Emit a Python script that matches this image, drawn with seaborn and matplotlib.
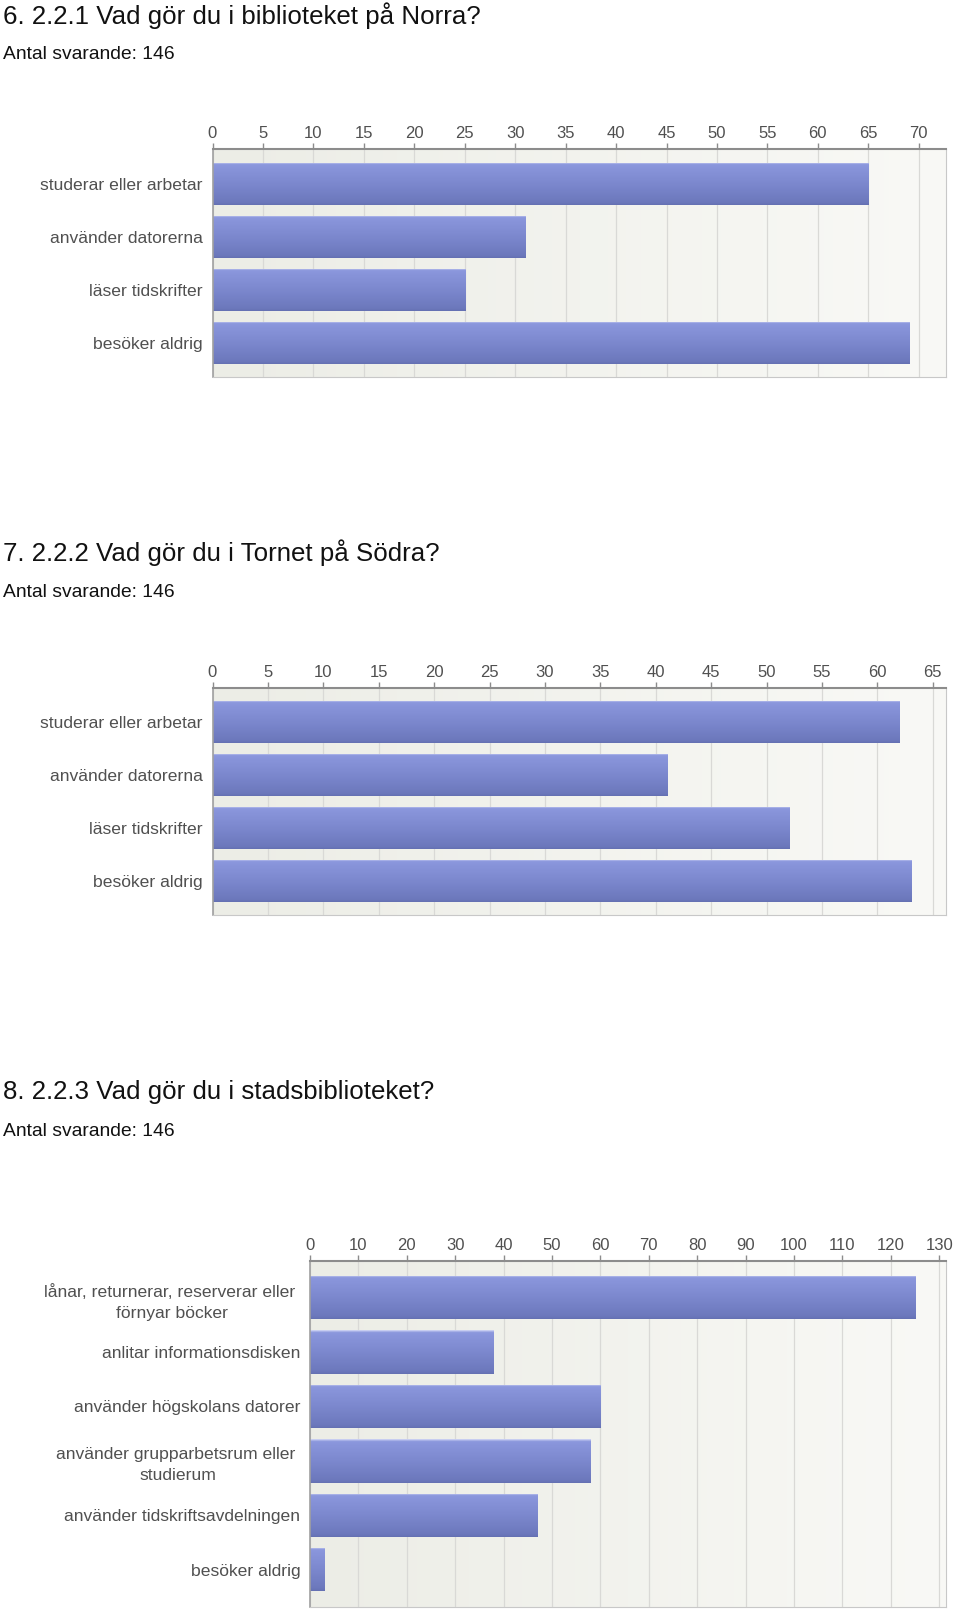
import numpy as np
import pandas as pd
import matplotlib
matplotlib.use("Agg")
import matplotlib.pyplot as plt
from matplotlib.colors import LinearSegmentedColormap
import seaborn as sns

# ---- data ----
titles = ["6. 2.2.1 Vad gör du i biblioteket på Norra?",
          "7. 2.2.2 Vad gör du i Tornet på Södra?",
          "8. 2.2.3 Vad gör du i stadsbiblioteket?"]
subtitles = ["Antal svarande: 146", "Antal svarande: 146", "Antal svarande: 146"]

cats1 = ["studerar eller arbetar", "använder datorerna", "läser tidskrifter", "besöker aldrig"]
vals1 = [65, 31, 25, 69]
ticks1 = list(range(0, 71, 5))

cats2 = ["studerar eller arbetar", "använder datorerna", "läser tidskrifter", "besöker aldrig"]
vals2 = [62, 41, 52, 63]
ticks2 = list(range(0, 66, 5))

cats3 = ["lånar, returnerar, reserverar eller \nförnyar böcker",
         "anlitar informationsdisken",
         "använder högskolans datorer",
         "använder grupparbetsrum eller \nstudierum",
         "använder tidskriftsavdelningen",
         "besöker aldrig"]
vals3 = [125, 38, 60, 58, 47, 3]
ticks3 = list(range(0, 131, 10))

sns.set_style("white")
plt.rcParams['font.family'] = ['Liberation Sans', 'DejaVu Sans']

W, H = 960, 1611
fig = plt.figure(figsize=(W / 100, H / 100), dpi=100)

bar_cmap = LinearSegmentedColormap.from_list(
    "bar", [(0.0, '#d4d9f5'), (0.05, '#8b97dd'), (0.5, '#7c88ce'),
            (0.94, '#6c78bc'), (1.0, '#6470b2')])
bg_cmap = LinearSegmentedColormap.from_list("bg", ['#ecede6', '#f9f9f6'])


def px_axes(left, right, top, bottom):
    return fig.add_axes([left / W, 1 - bottom / H, (right - left) / W, (bottom - top) / H])


def draw(ax, cats, vals, ticks, xmax, ylim):
    df = pd.DataFrame({"cat": cats, "val": vals})
    sns.barplot(data=df, x="val", y="cat", orient="h", ax=ax, color='#7c88ce',
                width=0.8, zorder=3, errorbar=None, linewidth=0)
    # gradient background
    ax.imshow(np.linspace(0, 1, 256).reshape(1, -1), cmap=bg_cmap, aspect='auto',
              extent=(0, 1, 0, 1), transform=ax.transAxes, zorder=0)
    # gradient bars
    grad = np.linspace(0, 1, 128).reshape(-1, 1)
    for p in list(ax.patches):
        x0, y0, w, h = p.get_x(), p.get_y(), p.get_width(), p.get_height()
        im = ax.imshow(grad, cmap=bar_cmap, aspect='auto',
                       extent=(x0, x0 + w, y0 + h, y0), zorder=4, interpolation='bilinear')
        im.set_clip_path(p)
    ax.set_xlim(0, xmax)
    ax.set_ylim(*ylim)
    ax.set_xlabel("")
    ax.set_ylabel("")
    ax.xaxis.tick_top()
    ax.set_xticks(ticks)
    ax.set_xticklabels([str(t) for t in ticks])
    ax.tick_params(axis='x', which='both', top=True, bottom=False, length=4, width=1,
                   color='#8c8c8c', labelsize=12, labelcolor='#505050', pad=1.5)
    ax.tick_params(axis='y', left=False, length=0, labelsize=12.6, labelcolor='#505050', pad=7)
    for lab in ax.get_yticklabels():
        lab.set_multialignment('center')
        lab.set_linespacing(1.5)
    ax.grid(axis='x', color='#d9d9d6', linewidth=0.9, zorder=1)
    ax.set_axisbelow(True)
    ax.spines['top'].set_color('#8c8c8c')
    ax.spines['top'].set_linewidth(1.5)
    ax.spines['left'].set_color('#a0a0a0')
    ax.spines['left'].set_linewidth(1.2)
    ax.spines['right'].set_color('#c8c8c8')
    ax.spines['bottom'].set_color('#c8c8c8')
    for s in ax.spines.values():
        s.set_visible(True)
        s.set_zorder(6)


ax1 = px_axes(212.5, 946, 149, 377)
draw(ax1, cats1, vals1, ticks1, 72.7, (3.64, -0.66))
ax2 = px_axes(212.5, 946, 687.7, 915)
draw(ax2, cats2, vals2, ticks2, 66.2, (3.645, -0.645))
ax3 = px_axes(310, 946, 1260.7, 1606.7)
draw(ax3, cats3, vals3, ticks3, 131.4, (5.68, -0.68))

title_base = [23.6, 561.5, 1099]
sub_base = [58.6, 597, 1136]
for t, s, tb, sb in zip(titles, subtitles, title_base, sub_base):
    fig.text(3 / W, 1 - tb / H, t, fontsize=18.6, color='#111111', va='baseline', ha='left')
    fig.text(3 / W, 1 - sb / H, s, fontsize=13.9, color='#111111', va='baseline', ha='left')

fig.savefig("out.png", dpi=100)
